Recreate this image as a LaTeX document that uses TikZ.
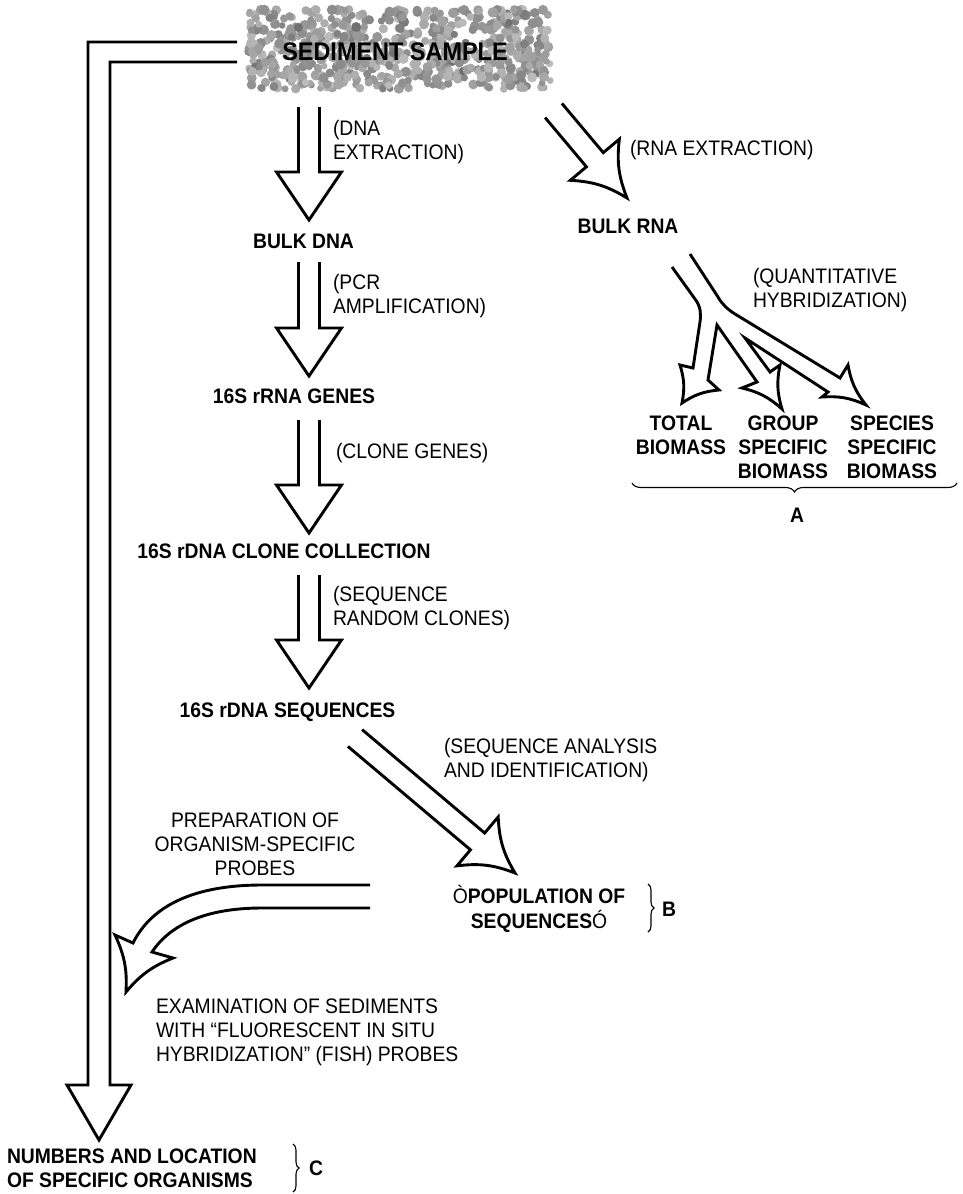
\documentclass[tikz,border=0pt]{standalone}
\usepackage{fontspec}
\setmainfont{Liberation Sans}[FakeStretch=0.92]
\usetikzlibrary{calc,decorations.pathreplacing}
\newcommand\ml[2]{\begin{tabular}[t]{@{}#1@{}}#2\end{tabular}}
% fat open arrow: [bend] tail, tip, half shaft width, half head width, head length
\newcommand\fatarrow[6][]{%
  \coordinate (fa-h) at ($(#3)!#6!(#2)$);
  \draw[fat] ($(#2)!#4!90:(#3)$) -- ($(fa-h)!#4!90:(#3)$) -- ($(fa-h)!#5!90:(#3)$) to[#1] (#3) to[#1] ($(fa-h)!#5!-90:(#3)$) -- ($(fa-h)!#4!-90:(#3)$) -- ($(#2)!#4!-90:(#3)$);}
\begin{document}
\begin{tikzpicture}[x=1pt,y=-1pt,
  fat/.style={line width=2.9pt,line join=miter,miter limit=25},
  lab/.style={inner sep=0pt,outer sep=0pt,font=\fontsize{21}{24}\selectfont},
  blab/.style={inner sep=0pt,outer sep=0pt,font=\fontsize{21}{24}\selectfont\bfseries},
  sedtext/.style={inner sep=0pt,outer sep=0pt,font=\fontsize{25.5}{28}\selectfont\bfseries,anchor=base},
  bracestyle/.style={decorate,line width=1.1pt}]
\useasboundingbox (0,0) rectangle (962,1194);

% ---------- sediment sample ----------
\pgfmathsetseed{12}
\foreach \i in {1,...,680}{
  \pgfmathsetmacro\px{247+306*rnd}
  \pgfmathsetmacro\py{9+80*rnd}
  \pgfmathsetmacro\rr{3.3+2.0*rnd}
  \pgfmathsetmacro\gg{int(26+22*rnd+16*rnd*rnd*rnd)}
  \fill[black!\gg] (\px,\py) circle (\rr pt);
}
\coordinate (sedc) at (395,60);
\node[sedtext] (sed) at (sedc) {SEDIMENT SAMPLE};

% ---------- coordinates for the arrows ----------
\coordinate (t1) at (309,107); \coordinate (p1) at (309,220);
\coordinate (t2) at (309,262); \coordinate (p2) at (309,376);
\coordinate (t3) at (309,420); \coordinate (p3) at (309,533);
\coordinate (t4) at (309,575); \coordinate (p4) at (309,688);
\coordinate (tr) at (553.5,110.5); \coordinate (pr) at (627,198);
\coordinate (ts) at (355,738); \coordinate (ps) at (515,873);

\fatarrow{t1}{p1}{10.5pt}{32.5pt}{48pt}
\fatarrow{t2}{p2}{10.5pt}{32.5pt}{48pt}
\fatarrow{t3}{p3}{10.5pt}{32.5pt}{48pt}
\fatarrow{t4}{p4}{10.5pt}{32.5pt}{48pt}
\fatarrow[bend right=14]{tr}{pr}{11pt}{32pt}{50pt}
\fatarrow[bend right=14]{ts}{ps}{11pt}{32pt}{49pt}

% ---------- branching arrow (quantitative hybridization) ----------
\draw[fat] (672,267) -- (695,299) .. controls (701,307) and (701,314) .. (700,322) -- (693,368)
  -- (680,365) to[bend left=14] (682,403) to[bend left=14] (719,390) -- (708,380)
  -- (717,325) -- (757,382)
  -- (742,388) to[bend left=14] (782,409) to[bend left=14] (780,365) -- (770,372)
  -- (745,338) -- (828,392)
  -- (822,397) to[bend left=14] (866,405) to[bend left=14] (848,365) -- (840,378)
  -- (735,314) .. controls (727,309) and (722,304) .. (718,297) -- (690,254);

% ---------- long left arrow to C ----------
\coordinate (c1) at (237,42); \coordinate (c2) at (237,62);
\draw[fat] (c1) -- (88,42) -- (88,1085) -- (67,1085) -- (99,1140) -- (131,1085) -- (110,1085) -- (110,62) -- (c2);

% ---------- curved FISH arrow ----------
\coordinate (f1) at (370,885); \coordinate (f2) at (370,908);
\draw[fat] (f1) -- (262,885) .. controls (195,885) and (152,905) .. (133,943)
  -- (115,935) to[bend left=14] (126,992) to[bend left=14] (173,958)
  -- (152,952) .. controls (170,925) and (205,908) .. (262,908) -- (f2);

% ---------- labels ----------
\node[lab,anchor=base west] (dnaext) at (333,135) {\ml{l}{(DNA\\EXTRACTION)}};
\node[blab,anchor=base] (bulkdna) at (303.5,248) {BULK DNA};
\node[lab,anchor=base west] (pcr) at (333,289) {\ml{l}{(PCR\\AMPLIFICATION)}};
\node[blab,anchor=base] (genes) at (294,403) {16S rRNA GENES};
\node[lab,anchor=base west] (clonegenes) at (336,458) {(CLONE GENES)};
\node[blab,anchor=base] (clonecoll) at (284,558) {16S rDNA CLONE COLLECTION};
\node[lab,anchor=base west] (seqrand) at (333,601) {\ml{l}{(SEQUENCE\\RANDOM CLONES)}};
\node[blab,anchor=base] (seqs) at (287.5,717) {16S rDNA SEQUENCES};

\node[lab,anchor=base west] (rnaext) at (630,155) {(RNA EXTRACTION)};
\node[blab,anchor=base] (bulkrna) at (628,233) {BULK RNA};
\node[lab,anchor=base west] (quant) at (753,283) {\ml{l}{(QUANTITATIVE\\HYBRIDIZATION)}};
\node[blab,anchor=base] (total) at (681,430) {\ml{c}{TOTAL\\BIOMASS}};
\node[blab,anchor=base] (group) at (783,430) {\ml{c}{GROUP\\SPECIFIC\\BIOMASS}};
\node[blab,anchor=base] (species) at (892,430) {\ml{c}{SPECIES\\SPECIFIC\\BIOMASS}};
\coordinate (ba1) at (632,483); \coordinate (ba2) at (957,483);
\draw[bracestyle,decoration={brace,mirror,amplitude=9pt}] (ba1) -- (ba2);
\node[blab,anchor=base] (labA) at (797,522) {A};

\node[lab,anchor=base west] (seqanal) at (444,753) {\ml{l}{(SEQUENCE ANALYSIS\\AND IDENTIFICATION)}};
\node[blab,anchor=base] (popul) at (539,903) {\ml{c}{\textmd{Ò}POPULATION OF\\SEQUENCES\textmd{Ó}}};
\coordinate (bb1) at (648,884); \coordinate (bb2) at (648,932);
\draw[bracestyle,decoration={brace,amplitude=6pt}] (bb1) -- (bb2);
\node[blab,anchor=base west] (labB) at (662,916) {B};

\node[lab,anchor=base] (prep) at (255,827) {\ml{c}{PREPARATION OF\\ORGANISM-SPECIFIC\\PROBES}};
\node[lab,anchor=base west] (exam) at (156,1013) {\ml{l}{EXAMINATION OF SEDIMENTS\\WITH “FLUORESCENT IN SITU\\HYBRIDIZATION” (FISH) PROBES}};

\node[blab,anchor=base west] (numbers) at (7,1163) {\ml{l}{NUMBERS AND LOCATION\\OF SPECIFIC ORGANISMS}};
\coordinate (bc1) at (293,1144); \coordinate (bc2) at (293,1192);
\draw[bracestyle,decoration={brace,amplitude=6pt}] (bc1) -- (bc2);
\node[blab,anchor=base west] (labC) at (309,1175) {C};
\end{tikzpicture}
\end{document}
